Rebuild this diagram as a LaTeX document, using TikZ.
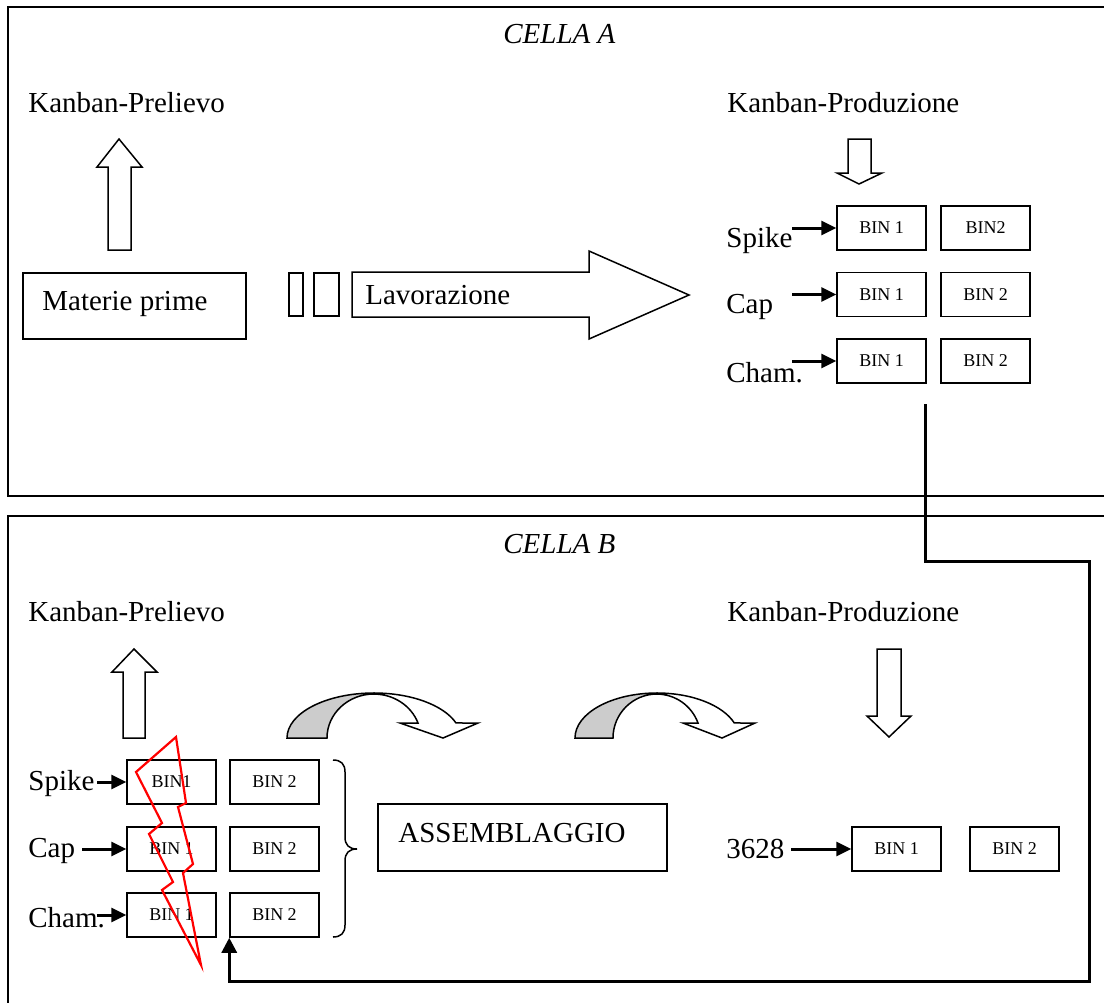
\documentclass[tikz,border=0pt]{standalone}
\usepackage{fontspec}
\setmainfont{Liberation Serif}
\usetikzlibrary{arrows.meta}
\definecolor{bandgray}{RGB}{204,204,204}
\begin{document}
\begin{tikzpicture}[x=0.5pt,y=-0.5pt,
  frame/.style={line width=0.75pt},
  bin/.style={draw,line width=0.75pt,minimum width=44.5pt,minimum height=22pt,
    inner sep=0pt,font=\fontsize{9}{10}\selectfont},
  txt/.style={anchor=base west,inner sep=0pt,font=\fontsize{14.5}{17}\selectfont},
  title/.style={anchor=base west,inner sep=0pt,font=\fontsize{14.5}{17}\selectfont\itshape},
  feed/.style={line width=1.5pt,-{Triangle[length=7.5pt,width=7pt]}},
  ret/.style={line width=1.5pt,line join=miter,-{Triangle[length=7.5pt,width=7.5pt]}},
  blockarrow/.style={draw,fill=white,line width=0.75pt,line join=miter},
  plainbox/.style={draw,line width=0.75pt},
  bolt/.style={draw=red,line width=1.1pt,line join=miter}]
\useasboundingbox (0,0) rectangle (1104,1003);

% ---------- cell frames ----------
\draw[frame] (1104,7) -- (8,7) -- (8,496) -- (1104,496);
\draw[frame] (1104,516) -- (8,516) -- (8,1003);
\node[title] (tA) at (503,43) {CELLA A};
\node[title] (tB) at (503,553) {CELLA B};

% ================= CELLA A =================
\node[txt] (kpA) at (28,112) {Kanban-Prelievo};
\node[txt] (kprodA) at (727,112) {Kanban-Produzione};

% withdrawal kanban: block arrow pointing up
\path[blockarrow] (108,250) -- (108,167) -- (97,167) -- (119,139) -- (142,167)
  -- (131,167) -- (131,250) -- cycle;
% production kanban: block arrow pointing down
\path[blockarrow] (848,139) -- (871,139) -- (871,173) -- (882,173) -- (859,184)
  -- (837,173) -- (848,173) -- cycle;

% raw material
\node[plainbox,minimum width=111.5pt,minimum height=33pt,inner sep=0pt] (mp) at (134.5,306) {};
\node[txt] (mpt) at (42,310) {Materie prime};

% two small containers and the processing arrow
\draw[plainbox] (289,273) rectangle (303,316);
\draw[plainbox] (314,273) rectangle (339,316);
\path[blockarrow] (352,272) -- (589,272) -- (589,251) -- (689,295) -- (589,339)
  -- (589,317) -- (352,317) -- cycle;
\node[txt] (lav) at (365,304) {Lavorazione};

% bins of cell A
\node[bin] (a11) at (881.5,228) {BIN 1};
\node[bin] (a12) at (985.5,228) {BIN2};
\node[bin] (a21) at (881.5,294.5) {BIN 1};
\node[bin] (a22) at (985.5,294.5) {BIN 2};
\node[bin] (a31) at (881.5,361) {BIN 1};
\node[bin] (a32) at (985.5,361) {BIN 2};

\node[txt] (spA) at (726,247) {Spike};
\node[txt] (capA) at (726,313) {Cap};
\node[txt] (chA) at (726,382) {Cham.};
\coordinate (fa1) at (792,228);
\coordinate (fa2) at (792,294.5);
\coordinate (fa3) at (792,361);
\draw[feed] (fa1) -- (a11.west);
\draw[feed] (fa2) -- (a21.west);
\draw[feed] (fa3) -- (a31.west);

% ================= CELLA B =================
\node[txt] (kpB) at (28,621) {Kanban-Prelievo};
\node[txt] (kprodB) at (727,621) {Kanban-Produzione};

\path[blockarrow] (123,738) -- (123,672) -- (112,672) -- (134,649) -- (157,672)
  -- (145,672) -- (145,738) -- cycle;
\path[blockarrow] (877,649) -- (901,649) -- (901,716) -- (911,716) -- (889,737)
  -- (867,716) -- (877,716) -- cycle;

% curved transfer arrows
\path[draw,fill=bandgray,line width=0.75pt]
  (287,738) arc[start angle=180,end angle=270,x radius=87,y radius=45]
  -- (374,694) arc[start angle=270,end angle=180,x radius=47,y radius=44] -- cycle;
\path[blockarrow]
  (374,693) arc[start angle=270,end angle=340.5,x radius=87,y radius=45]
  -- (478,723) -- (443,738) -- (400,723) -- (418,723)
  arc[start angle=340,end angle=270,x radius=47,y radius=44] -- cycle;
\path[draw,fill=bandgray,line width=0.75pt]
  (575,738) arc[start angle=180,end angle=270,x radius=82,y radius=45]
  -- (657,694) arc[start angle=270,end angle=180,x radius=44,y radius=44] -- cycle;
\path[blockarrow]
  (657,693) arc[start angle=270,end angle=340.5,x radius=82,y radius=45]
  -- (755,723) -- (722,738) -- (683,723) -- (698,723)
  arc[start angle=340,end angle=270,x radius=44,y radius=44] -- cycle;

% bins of cell B (inputs)
\node[bin] (b11) at (171.5,782) {BIN1};
\node[bin] (b12) at (274.5,782) {BIN 2};
\node[bin] (b21) at (171.5,849) {BIN 1};
\node[bin] (b22) at (274.5,849) {BIN 2};
\node[bin] (b31) at (171.5,915) {BIN 1};
\node[bin] (b32) at (274.5,915) {BIN 2};

\node[txt] (spB) at (28,790) {Spike};
\node[txt] (capB) at (28,857) {Cap};
\node[txt] (chB) at (28,927) {Cham.};
\coordinate (fb1) at (97,782);
\coordinate (fb2) at (82,849);
\coordinate (fb3) at (97,915);
\draw[feed] (fb1) -- (b11.west);
\draw[feed] (fb2) -- (b21.west);
\draw[feed] (fb3) -- (b31.west);

% brace grouping the input bins
\draw[line width=0.75pt] (333,760) .. controls (341,760) and (345,764) .. (345,772)
  -- (345,837) .. controls (345,845) and (349,849) .. (357,849)
  .. controls (349,849) and (345,853) .. (345,861)
  -- (345,925) .. controls (345,933) and (341,937) .. (333,937);

% assembly
\node[plainbox,minimum width=144.5pt,minimum height=33.5pt,inner sep=0pt] (asm) at (522.5,837.5) {};
\node[txt] (asmt) at (398,842) {ASSEMBLAGGIO};

% output bins
\node[bin] (c1) at (896.5,849) {BIN 1};
\node[bin] (c2) at (1014.5,849) {BIN 2};
\node[txt] (code) at (726,858) {3628};
\coordinate (fc) at (791,849);
\draw[feed] (fc) -- (c1.west);

% failure mark over the first bins
\draw[bolt] (176,737) -- (136,772) -- (162,823) -- (149,834) -- (173,882)
  -- (162,890) -- (201,965) -- (183,873) -- (193,864) -- (178,807)
  -- (186,803) -- cycle;

% kanban return loop from cell A to cell B
\coordinate (r0) at (925,404);
\coordinate (r1) at (1089,561);
\coordinate (r2) at (1089,981);
\draw[ret] (r0) |- (r1) -- (r2) -| (b32.south west);
\end{tikzpicture}
\end{document}
